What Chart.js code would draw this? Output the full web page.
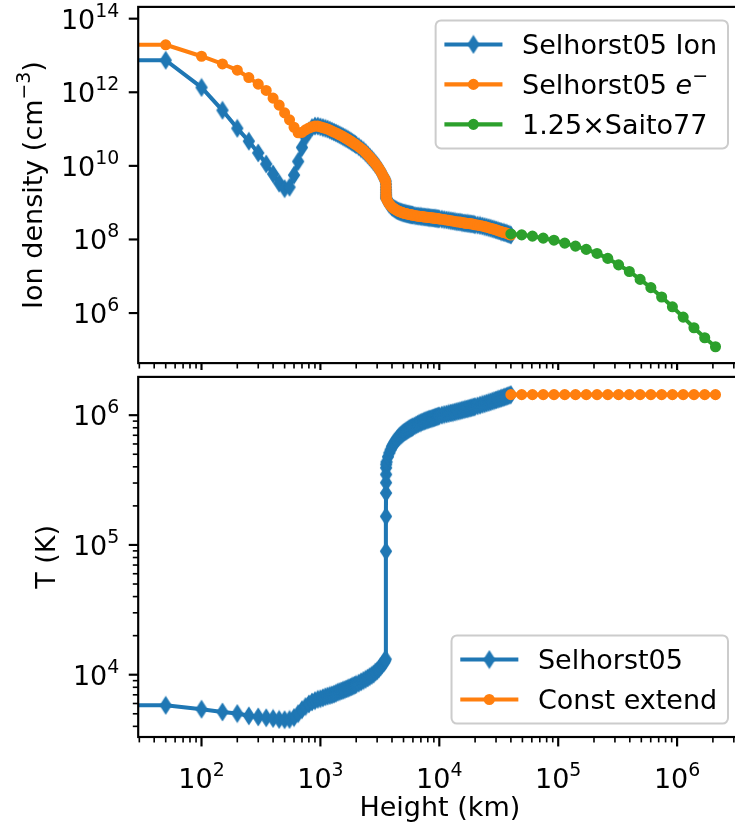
<!DOCTYPE html>
<html>
<head>
<meta charset="utf-8">
<title>Selhorst05 density and temperature</title>
<script src="https://cdn.jsdelivr.net/npm/chart.js@4.4.0/dist/chart.umd.min.js"></script>
<style>
  html, body { margin: 0; padding: 0; background: #fff; overflow: hidden; }
  #wrap { position: relative; width: 735px; height: 826px; overflow: hidden; }
  canvas { position: absolute; left: 0; }
  #densityChart { top: 0; }
  #tempChart { top: 370px; }
</style>
</head>
<body>
<div id="wrap">
  <canvas id="densityChart" width="750" height="370"></canvas>
  <canvas id="tempChart" width="750" height="456"></canvas>
</div>
<script>
// Selhorst05 model heights (km); first entry stands in for the surface point
const heightKm = [
  10, 50, 100, 150, 200, 250, 300, 350, 400, 450, 500, 550, 600, 650, 700, 750, 800, 850, 900, 950,
  1000, 1050, 1100, 1150, 1200, 1250, 1300, 1350, 1400, 1450, 1500, 1550, 1600, 1650, 1700, 1750, 1800, 1850, 1900, 1950,
  2000, 2100, 2200, 2300, 2400, 2500, 2600, 2700, 2800, 2900, 3000, 3100, 3200, 3300, 3400,
  3450, 3500, 3540,
  3560, 3562, 3564, 3566, 3568, 3570, 3572,
  3600, 3700, 3800, 3900, 4000, 4100, 4200, 4300, 4400, 4500, 4600, 4700, 4800, 4900, 5000,
  5100, 5200, 5300, 5400, 5500, 5600, 5700, 5800, 5900, 6000,
  6200, 6400, 6600, 6800, 7000, 7200, 7400, 7600, 7800, 8000, 8200, 8400, 8600, 8800, 9000, 9200, 9400, 9600, 9800, 10000,
  10500, 11000, 11500, 12000, 12500, 13000, 13500, 14000, 14500, 15000,
  15500, 16000, 16500, 17000, 17500, 18000, 18500, 19000, 19500, 20000,
  21000, 22000, 23000, 24000, 25000, 26000, 27000, 28000, 29000, 30000,
  31000, 32000, 33000, 34000, 35000, 36000, 37000, 38000, 39000, 40000
];

// log10 of ion density (cm^-3)
const ionLog = [
  12.87, 12.87, 12.13, 11.51, 11.02, 10.67, 10.35, 10.05, 9.78, 9.53, 9.38, 9.42, 9.75, 10.12, 10.50, 10.78, 10.95, 11.04, 11.08, 11.08,
  11.06, 11.04, 11.02, 11.00, 10.97, 10.945, 10.92, 10.895, 10.87, 10.845, 10.82, 10.795, 10.77, 10.745, 10.72, 10.695, 10.67, 10.645, 10.62, 10.595,
  10.57, 10.52, 10.47, 10.42, 10.36, 10.30, 10.24, 10.18, 10.12, 10.06, 10.00, 9.93, 9.86, 9.78, 9.70,
  9.66, 9.62, 9.58,
  9.50, 9.42, 9.35, 9.28, 9.22, 9.17, 9.13,
  9.10, 9.02, 8.96, 8.92, 8.88, 8.855, 8.83, 8.81, 8.79, 8.775, 8.76, 8.75, 8.74, 8.73, 8.72,
  8.713, 8.707, 8.70, 8.693, 8.687, 8.68, 8.675, 8.67, 8.665, 8.66,
  8.65, 8.64, 8.635, 8.63, 8.625, 8.62, 8.615, 8.61, 8.605, 8.60, 8.596, 8.592, 8.588, 8.584, 8.58, 8.576, 8.572, 8.568, 8.564, 8.56,
  8.55, 8.54, 8.53, 8.52, 8.51, 8.50, 8.49, 8.48, 8.475, 8.47,
  8.46, 8.45, 8.445, 8.44, 8.435, 8.43, 8.425, 8.42, 8.41, 8.40,
  8.39, 8.38, 8.365, 8.35, 8.335, 8.32, 8.305, 8.29, 8.275, 8.26,
  8.245, 8.23, 8.215, 8.20, 8.19, 8.18, 8.165, 8.15, 8.135, 8.12
];

// log10 of electron density (cm^-3)
const elecLog = [
  13.29, 13.29, 12.98, 12.77, 12.60, 12.40, 12.22, 12.05, 11.84, 11.65, 11.44, 11.25, 11.05, 10.90, 10.91, 10.98, 11.03, 11.06, 11.08, 11.08,
  11.06, 11.04, 11.02, 11.00, 10.97, 10.945, 10.92, 10.895, 10.87, 10.845, 10.82, 10.795, 10.77, 10.745, 10.72, 10.695, 10.67, 10.645, 10.62, 10.595,
  10.57, 10.52, 10.47, 10.42, 10.36, 10.30, 10.24, 10.18, 10.12, 10.06, 10.00, 9.93, 9.86, 9.78, 9.70,
  9.66, 9.62, 9.58,
  9.50, 9.42, 9.35, 9.28, 9.22, 9.17, 9.13,
  9.10, 9.02, 8.96, 8.92, 8.88, 8.855, 8.83, 8.81, 8.79, 8.775, 8.76, 8.75, 8.74, 8.73, 8.72,
  8.713, 8.707, 8.70, 8.693, 8.687, 8.68, 8.675, 8.67, 8.665, 8.66,
  8.65, 8.64, 8.635, 8.63, 8.625, 8.62, 8.615, 8.61, 8.605, 8.60, 8.596, 8.592, 8.588, 8.584, 8.58, 8.576, 8.572, 8.568, 8.564, 8.56,
  8.55, 8.54, 8.53, 8.52, 8.51, 8.50, 8.49, 8.48, 8.475, 8.47,
  8.46, 8.45, 8.445, 8.44, 8.435, 8.43, 8.425, 8.42, 8.41, 8.40,
  8.39, 8.38, 8.365, 8.35, 8.335, 8.32, 8.305, 8.29, 8.275, 8.26,
  8.245, 8.23, 8.215, 8.20, 8.19, 8.18, 8.165, 8.15, 8.135, 8.12
];

// log10 of temperature (K)
const tempLog = [
  3.764, 3.764, 3.734, 3.713, 3.701, 3.683, 3.675, 3.668, 3.663, 3.655, 3.653, 3.655, 3.670, 3.700, 3.730, 3.755, 3.775, 3.790, 3.800, 3.810,
  3.815, 3.822, 3.830, 3.835, 3.840, 3.845, 3.850, 3.857, 3.865, 3.870, 3.875, 3.880, 3.885, 3.890, 3.895, 3.900, 3.905, 3.910, 3.915, 3.920,
  3.925, 3.935, 3.945, 3.955, 3.965, 3.975, 3.985, 3.995, 4.005, 4.020, 4.030, 4.045, 4.060, 4.075, 4.090,
  4.100, 4.110, 4.120,
  4.951, 5.220, 5.400, 5.480, 5.543, 5.594, 5.620,
  5.640, 5.680, 5.710, 5.735, 5.760, 5.775, 5.790, 5.803, 5.815, 5.825, 5.835, 5.843, 5.850, 5.858, 5.865,
  5.870, 5.875, 5.880, 5.885, 5.890, 5.895, 5.899, 5.903, 5.906, 5.910,
  5.918, 5.925, 5.932, 5.938, 5.943, 5.948, 5.953, 5.957, 5.961, 5.965, 5.968, 5.971, 5.974, 5.977, 5.980, 5.983, 5.986, 5.989, 5.992, 5.995,
  6.000, 6.005, 6.009, 6.013, 6.017, 6.020, 6.024, 6.028, 6.031, 6.035,
  6.038, 6.042, 6.045, 6.048, 6.051, 6.054, 6.057, 6.060, 6.063, 6.066,
  6.072, 6.077, 6.083, 6.088, 6.093, 6.098, 6.103, 6.108, 6.113, 6.117,
  6.122, 6.126, 6.130, 6.134, 6.138, 6.142, 6.146, 6.150, 6.154, 6.158
];

// coronal extension heights (km)
const extHeightKm = [
  40000, 49300, 60700, 74800, 92100, 113500, 139800, 172200, 212100, 261300,
  321900, 396500, 488500, 601700, 741200, 913100, 1124800, 1385600, 1706900, 2102700
];
// log10 of 1.25 x Saito77 density (cm^-3)
const saitoLog = [
  8.15, 8.125, 8.09, 8.035, 7.98, 7.90, 7.82, 7.73, 7.62, 7.485,
  7.31, 7.13, 6.915, 6.69, 6.435, 6.17, 5.89, 5.60, 5.33, 5.085
];
// temperature held at the top of the model (K)
const extendTemp = [
  1.44e6, 1.44e6, 1.44e6, 1.44e6, 1.44e6, 1.44e6, 1.44e6, 1.44e6, 1.44e6, 1.44e6,
  1.44e6, 1.44e6, 1.44e6, 1.44e6, 1.44e6, 1.44e6, 1.44e6, 1.44e6, 1.44e6, 1.44e6
];

// decade ticks
const heightTicks = [1e2, 1e3, 1e4, 1e5, 1e6];
const densityTicks = [1e6, 1e8, 1e10, 1e12, 1e14];
const tempTicks = [1e4, 1e5, 1e6];

const FONT = '"DejaVu Sans", sans-serif';
const FS = 27;
const PT = FS / 10;
const BLUE = '#1f77b4', ORANGE = '#ff7f0e', GREEN = '#2ca02c';

function thinDiamond(color) {
  const c = document.createElement('canvas');
  c.width = 14; c.height = 20;
  const g = c.getContext('2d');
  g.fillStyle = color;
  g.beginPath();
  g.moveTo(7, 0.5); g.lineTo(13.2, 10); g.lineTo(7, 19.5); g.lineTo(0.8, 10);
  g.closePath();
  g.fill();
  return c;
}

// small mathtext-like runs: {t, sup, it}
function partFont(p) {
  return (p.it ? 'italic ' : '') + (p.sup ? FS * 0.7 : FS) + 'px ' + FONT;
}
function richWidth(ctx, parts) {
  let w = 0;
  for (const p of parts) { ctx.font = partFont(p); w += ctx.measureText(p.t).width; }
  return w;
}
function drawRich(ctx, parts, x, y, align) {
  const w = richWidth(ctx, parts);
  let cx = align === 'right' ? x - w : align === 'center' ? x - w / 2 : x;
  ctx.textAlign = 'left';
  ctx.textBaseline = 'alphabetic';
  for (const p of parts) {
    ctx.font = partFont(p);
    ctx.fillText(p.t, cx, p.sup ? y - FS * 0.45 : y);
    cx += ctx.measureText(p.t).width;
  }
}
function pow10Parts(v) {
  return [{ t: '10' }, { t: String(Math.round(Math.log10(v))), sup: true }];
}
function logMinors(min, max) {
  const out = [];
  for (let k = Math.floor(Math.log10(min)); k <= Math.ceil(Math.log10(max)); k++) {
    for (let m = 2; m <= 9; m++) {
      const v = m * Math.pow(10, k);
      if (v >= min && v <= max) out.push(v);
    }
  }
  return out;
}

// frame, ticks, tick labels and axis titles
function mplAxes(cfg) {
  return {
    id: 'mplAxes',
    afterDatasetsDraw(chart) {
      const { ctx, chartArea: a, scales } = chart;
      const xs = scales.x, ys = scales.y;
      const seg = (x1, y1, x2, y2, w) => {
        ctx.lineWidth = w;
        ctx.beginPath(); ctx.moveTo(x1, y1); ctx.lineTo(x2, y2); ctx.stroke();
      };
      ctx.save();
      ctx.strokeStyle = '#000';
      ctx.fillStyle = '#000';
      for (const v of logMinors(xs.min, xs.max)) {
        const px = xs.getPixelForValue(v);
        seg(px, a.bottom, px, a.bottom + 2 * PT, 0.6 * PT);
      }
      for (const v of cfg.xMajor) {
        const px = xs.getPixelForValue(v);
        seg(px, a.bottom, px, a.bottom + 3.5 * PT, 0.8 * PT);
        if (cfg.xLabels) drawRich(ctx, pow10Parts(v), px, a.bottom + 51, 'center');
      }
      if (cfg.yMinor) {
        for (const v of logMinors(ys.min, ys.max)) {
          const py = ys.getPixelForValue(v);
          seg(a.left, py, a.left - 2 * PT, py, 0.6 * PT);
        }
      }
      for (const v of cfg.yMajor) {
        const py = ys.getPixelForValue(v);
        seg(a.left, py, a.left - 3.5 * PT, py, 0.8 * PT);
        drawRich(ctx, pow10Parts(v), a.left - 7 * PT, py + 0.37 * FS, 'right');
      }
      ctx.lineWidth = 0.8 * PT;
      ctx.strokeRect(a.left, a.top, a.right - a.left, a.bottom - a.top);

      if (cfg.xTitle) drawRich(ctx, cfg.xTitle, (a.left + a.right) / 2, a.bottom + 79, 'center');
      ctx.save();
      ctx.translate(cfg.yTitleX, (a.top + a.bottom) / 2);
      ctx.rotate(-Math.PI / 2);
      drawRich(ctx, cfg.yTitle, 0, 0, 'center');
      ctx.restore();
      ctx.restore();
    }
  };
}

// framed legend with line + marker handles
function mplLegend(cfg) {
  return {
    id: 'mplLegend',
    afterDraw(chart) {
      const { ctx, chartArea: a } = chart;
      const ds = chart.data.datasets;
      const pad = 0.4 * FS, hl = 2 * FS, htp = 0.8 * FS, rowH = 0.98 * FS, gap = 0.5 * FS, inset = 0.5 * FS;
      const textW = Math.max(...cfg.labels.map(p => richWidth(ctx, p)));
      const w = 2 * pad + hl + htp + textW;
      const h = 2 * pad + ds.length * rowH + (ds.length - 1) * gap;
      const x0 = a.right - inset - w;
      const y0 = cfg.loc === 'upper' ? a.top + inset : a.bottom - inset - h;
      ctx.save();
      ctx.beginPath();
      ctx.roundRect(x0, y0, w, h, 0.2 * FS);
      ctx.fillStyle = 'rgba(255,255,255,0.8)';
      ctx.fill();
      ctx.strokeStyle = '#cccccc';
      ctx.lineWidth = 2;
      ctx.stroke();
      ds.forEach((d, i) => {
        const cy = y0 + pad + rowH / 2 + i * (rowH + gap);
        const lx = x0 + pad;
        ctx.strokeStyle = d.borderColor;
        ctx.lineWidth = d.borderWidth;
        ctx.lineCap = 'square';
        ctx.beginPath(); ctx.moveTo(lx, cy); ctx.lineTo(lx + hl, cy); ctx.stroke();
        const mx = lx + hl / 2;
        if (typeof d.pointStyle === 'object') {
          ctx.drawImage(d.pointStyle, mx - d.pointStyle.width / 2, cy - d.pointStyle.height / 2);
        } else {
          ctx.beginPath();
          ctx.arc(mx, cy, d.pointRadius, 0, Math.PI * 2);
          ctx.fillStyle = d.pointBackgroundColor;
          ctx.fill();
          ctx.lineWidth = d.pointBorderWidth;
          ctx.stroke();
        }
        ctx.fillStyle = '#000';
        drawRich(ctx, cfg.labels[i], lx + hl + htp, cy + 0.365 * FS, 'left');
      });
      ctx.restore();
    }
  };
}

function series(xs, ys, fromLog) {
  return xs.map((x, i) => ({ x: x, y: fromLog ? Math.pow(10, ys[i]) : ys[i] }));
}

function lineSet(label, data, color, marker, order) {
  const set = {
    label: label, data: data, order: order, clip: 0,
    borderColor: color, backgroundColor: color, borderWidth: 1.5 * PT,
    borderJoinStyle: 'round', borderCapStyle: 'square', tension: 0,
    pointBackgroundColor: color, pointBorderColor: color
  };
  if (marker === 'd') {
    set.pointStyle = thinDiamond(color);
    set.pointRadius = 6;
    set.pointBorderWidth = 0;
  } else {
    set.pointStyle = 'circle';
    set.pointRadius = 4.2;
    set.pointBorderWidth = 1 * PT;
  }
  return set;
}

function chartOptions(yMin, yMax, padBottom) {
  return {
    responsive: false,
    animation: false,
    devicePixelRatio: 1,
    events: [],
    layout: { padding: { left: 138.2, top: 3, right: 8.5, bottom: padBottom } },
    scales: {
      x: { type: 'logarithmic', display: false, min: 29.35, max: 3.48e6, bounds: 'data' },
      y: { type: 'logarithmic', display: false, min: yMin, max: yMax, bounds: 'data' }
    },
    plugins: { legend: { display: false }, tooltip: { enabled: false } }
  };
}

new Chart(document.getElementById('densityChart'), {
  type: 'line',
  data: {
    datasets: [
      lineSet('Selhorst05 Ion', series(heightKm, ionLog, true), BLUE, 'd', 2),
      lineSet('Selhorst05 e-', series(heightKm, elecLog, true), ORANGE, 'o', 1),
      lineSet('1.25xSaito77', series(extHeightKm, saitoLog, true), GREEN, 'o', 0)
    ]
  },
  options: chartOptions(Math.pow(10, 4.64), Math.pow(10, 14.32), 4),
  plugins: [
    mplAxes({
      xMajor: heightTicks, xLabels: false,
      yMajor: densityTicks, yMinor: false,
      yTitle: [{ t: 'Ion density (cm' }, { t: '\u22123', sup: true }, { t: ')' }],
      yTitleX: 42
    }),
    mplLegend({
      loc: 'upper',
      labels: [
        [{ t: 'Selhorst05 Ion' }],
        [{ t: 'Selhorst05 ' }, { t: 'e', it: true }, { t: '\u2212', sup: true }],
        [{ t: '1.25\u00d7Saito77' }]
      ]
    })
  ]
});

new Chart(document.getElementById('tempChart'), {
  type: 'line',
  data: {
    datasets: [
      lineSet('Selhorst05', series(heightKm, tempLog, true), BLUE, 'd', 1),
      lineSet('Const extend', series(extHeightKm, extendTemp, false), ORANGE, 'o', 0)
    ]
  },
  options: chartOptions(Math.pow(10, 3.52), Math.pow(10, 6.295), 89),
  plugins: [
    mplAxes({
      xMajor: heightTicks, xLabels: true,
      yMajor: tempTicks, yMinor: true,
      xTitle: [{ t: 'Height (km)' }],
      yTitle: [{ t: 'T (K)' }],
      yTitleX: 55
    }),
    mplLegend({
      loc: 'lower',
      labels: [
        [{ t: 'Selhorst05' }],
        [{ t: 'Const extend' }]
      ]
    })
  ]
});
</script>
</body>
</html>
